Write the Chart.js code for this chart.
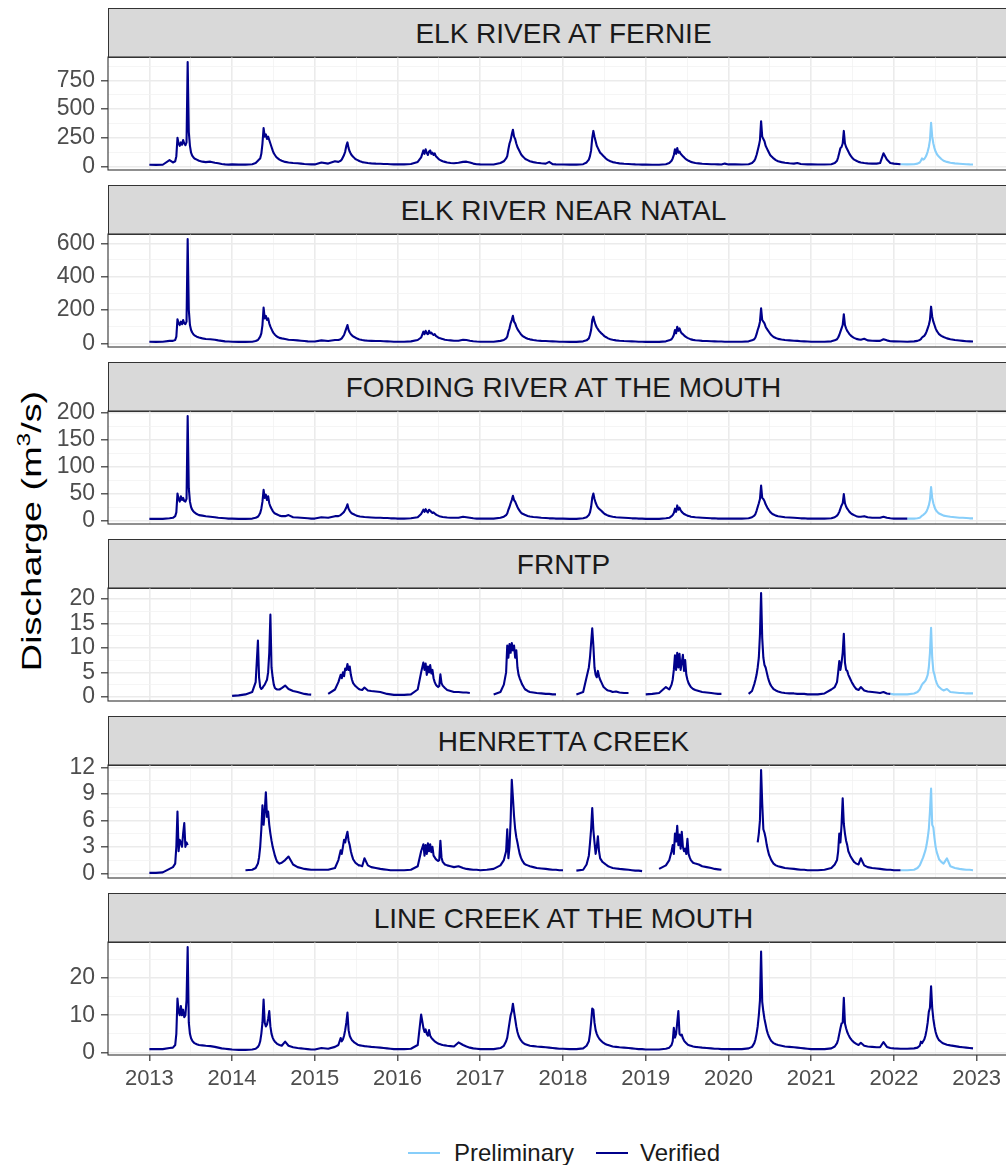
<!DOCTYPE html>
<html><head><meta charset="utf-8">
<script src="https://cdn.jsdelivr.net/npm/chart.js@4/dist/chart.umd.min.js"></script>
<style>
html,body{margin:0;padding:0;background:#fff}
body{width:1006px;height:1165px;overflow:hidden;position:relative;font-family:"Liberation Sans",Arial,sans-serif}
.strip{position:absolute;left:108px;width:911px;height:50px;background:#D9D9D9;border:1px solid #333;box-sizing:border-box;display:flex;align-items:center;justify-content:center;font-size:28px;color:#1A1A1A;white-space:nowrap;padding-top:1px}
canvas.pc{position:absolute;left:0}
#ytitle{position:absolute;left:32px;top:531px;transform:translate(-50%,-50%) rotate(-90deg) scaleX(1.35);font-size:28px;color:#000;white-space:nowrap}
#ytitle sup{font-size:18px;vertical-align:0;position:relative;top:-11px}
.lg{position:absolute;font-size:24px;color:#1A1A1A;white-space:nowrap}
.ls{position:absolute;height:2px}
</style>
</head><body>
<div id="ytitle">Discharge (m<sup>3</sup>/s)</div>
<span class="ls" style="left:408px;top:1152px;width:32px;background:#87CEFA"></span>
<span class="lg" style="left:454px;top:1139px">Preliminary</span>
<span class="ls" style="left:596px;top:1152px;width:32px;background:#00008B"></span>
<span class="lg" style="left:640px;top:1139px">Verified</span>
<script>
// ---------------- DATA ----------------
const STATIONS = ["ELK RIVER AT FERNIE","ELK RIVER NEAR NATAL","FORDING RIVER AT THE MOUTH","FRNTP","HENRETTA CREEK","LINE CREEK AT THE MOUTH"];
const YEARS = [2013,2014,2015,2016,2017,2018,2019,2020,2021,2022];
// day of year of each sample within a year
const DOY = [1,30,60,90,105,115,120,125,130,135,140,145,150,155,160,165,170,175,180,185,190,195,200,210,220,235,250,270,290,305,320,335,350];
const X_TICKS = [2013,2014,2015,2016,2017,2018,2019,2020,2021,2022,2023];
const Y_TICKS = [[0,250,500,750],[0,200,400,600],[0,50,100,150,200],[0,5,10,15,20],[0,3,6,9,12],[0,10,20]];
// decimal year from which data are Preliminary (null = all Verified)
const PRELIM_START = [2022.1, null, 2022.17, 2022.0, 2022.09, null];

const FERNIE = [
[15,14,15,55,35,45,90,250,200,180,210,190,230,200,185,210,910,300,180,120,95,80,70,60,50,42,38,42,32,28,22,18,16],
[18,16,16,20,30,50,60,70,110,200,335,260,280,240,260,230,200,170,140,115,100,85,75,60,50,40,35,30,28,25,22,20,18],
[18,35,25,45,40,50,60,80,100,130,180,210,160,130,110,95,85,75,65,60,55,50,45,38,35,30,27,25,24,22,21,20,18],
[18,18,22,40,80,140,110,150,120,100,130,140,110,120,100,115,90,80,70,60,55,50,45,40,35,30,28,32,40,42,35,25,20],
[18,17,17,30,45,70,90,150,200,230,280,320,260,240,200,170,150,130,110,95,85,75,65,55,45,38,32,28,25,40,20,18,17],
[17,16,16,20,35,60,90,140,250,310,260,220,180,160,140,120,110,100,90,80,70,62,55,45,38,32,27,24,22,20,18,17,16],
[16,15,15,20,30,50,70,100,150,110,160,120,130,110,100,90,80,70,62,55,50,45,40,35,30,27,24,22,20,19,18,17,25],
[18,18,17,20,30,50,70,100,140,180,230,395,260,240,220,180,160,140,120,100,90,80,70,55,45,38,32,28,25,30,22,20,18],
[18,17,17,20,30,50,80,120,160,170,200,310,200,170,150,130,110,95,80,70,60,55,50,40,35,30,27,25,25,30,115,60,30],
[25,20,18,20,25,35,50,70,60,65,80,100,130,170,230,380,260,200,160,130,110,95,85,65,50,40,32,27,24,22,20,18,17]
];
const NATAL = [
[10,9,10,15,15,20,40,145,120,110,130,115,140,120,115,130,625,200,110,80,65,55,48,40,35,30,26,25,22,18,15,12,11],
[10,9,9,10,14,20,30,40,60,110,215,150,165,140,150,120,100,85,70,60,52,45,40,33,30,26,22,20,18,16,14,12,11],
[11,18,14,20,20,25,30,40,50,70,90,110,80,65,55,48,42,38,34,30,28,25,23,20,18,16,15,14,14,13,12,11,10],
[10,10,12,20,35,70,55,75,60,55,75,60,65,55,50,55,45,40,35,32,30,28,26,22,20,18,16,16,22,20,16,13,11],
[10,10,10,15,20,30,40,70,90,120,140,165,130,120,100,85,75,65,55,48,42,38,34,28,24,20,17,15,14,13,12,11,10],
[10,9,9,12,18,30,50,80,140,160,130,110,95,85,75,68,60,55,48,42,38,34,30,25,22,18,16,14,13,12,11,10,10],
[9,9,9,12,18,25,35,50,80,60,100,75,90,70,60,55,48,42,37,33,30,27,24,21,19,17,15,14,13,12,11,11,10],
[10,10,10,12,18,25,35,55,80,100,130,210,140,130,120,100,88,78,68,58,50,44,38,32,27,23,20,18,16,15,13,12,11],
[10,10,10,12,18,25,35,50,70,90,110,175,110,90,75,65,55,48,42,37,33,30,27,24,22,28,18,16,15,15,25,18,13],
[12,11,10,12,15,20,25,35,40,45,55,70,90,110,140,220,160,130,110,90,75,65,55,45,38,30,25,20,17,15,13,12,11]
];
const FORDING = [
[3,3,3,4,5,8,15,50,40,35,45,38,42,36,35,40,194,60,35,25,20,17,15,12,10,9,8,7,6,5,4.5,4,3.5],
[3.5,3,3,3.5,5,7,10,14,22,35,57,42,48,38,45,32,26,22,18,15,13,12,11,9,8,8,10,6,5.5,5,4.5,4,3.5],
[3.5,6,5,8,8,10,12,14,16,20,24,30,22,18,15,13,12,11,10,9,8.5,8,7.5,7,6.5,6,5.5,5,5,4.5,4.5,4,4],
[3.5,3.5,4,6,12,20,16,21,17,15,20,18,16,14,15,13,11,10,9,8,7.5,7,6.5,6,5.5,5,5,5,7,6,5,4,3.5],
[3.5,3.5,3.5,5,7,10,13,20,25,32,38,46,38,35,30,25,21,18,15,13,12,11,10,8.5,7.5,6.5,6,5,4.5,4,4,3.5,3.5],
[3.5,3,3,4,6,10,15,25,42,50,40,33,28,24,22,20,18,16,14,12,11,10,9,8,7,6,5.5,5,4.5,4,4,3.5,3.5],
[3,3,3,4,5,8,10,14,22,16,28,20,24,19,16,14,12,11,10,9,8.5,8,7,6.5,6,5.5,5,4.5,4,4,3.5,3.5,3.5],
[3.5,3.5,3.5,4,6,9,12,18,25,32,40,65,42,40,36,30,26,22,19,16,14,12,11,9,8,7,6,5.5,5,4.5,4,4,3.5],
[3.5,3.5,3.5,4,6,9,12,16,22,28,32,49,32,26,22,19,16,14,12,11,10,9,8,7,7,8,6,5,5,5,7,5,4],
[3.5,3.5,3.5,3.5,4,5,7,9,10,12,14,17,22,28,38,62,42,32,25,20,17,15,13,11,9,8,7,6,5,5,4.5,4,4]
];
const FRNTP = [
[null,null,null,null,null,null,null,null,null,null,null,null,null,null,null,null,null,null,null,null,null,null,null,null,null,null,null,null,null,null,null,null,null],
[0.2,0.3,0.5,1.0,3,11.5,4,2,1.6,1.8,2.2,2.5,3,3.5,5,9,16.8,6,4,2.5,1.8,1.6,1.5,1.5,1.8,2.3,1.6,1.2,1.0,0.8,0.6,0.5,0.45],
[null,null,0.6,1.5,3,4.5,3.8,5,4.2,5.8,5.5,6.7,5.5,6.2,4.5,3.5,2.8,2.5,2.2,2.0,1.8,1.6,1.5,1.4,1.9,1.3,1.2,1.1,1.0,0.8,0.6,0.5,0.4],
[0.4,0.4,0.5,1.5,5,7,5.5,6.8,4.5,6.2,5,6.5,4.8,5.5,3.8,3,2.5,2.2,2.0,2.2,4.6,2.8,2.3,1.8,1.4,1.2,1.0,1.0,0.9,0.9,0.8,null,null],
[null,null,0.5,1,2.5,5,10.5,8,10.8,9,11,9.5,10.5,8,9.5,6,4.5,3.8,3.2,2.6,2.2,1.8,1.5,1.2,1.0,0.9,0.8,0.7,0.6,0.6,0.5,0.5,null],
[null,null,0.5,1.0,4,6,8,11,14,10.5,6,4.5,4,5.3,4.2,3.5,3,2.5,2.0,1.8,1.6,1.4,1.3,1.2,1.0,1.1,0.9,0.8,0.8,null,null,null,null],
[0.5,0.6,0.8,2,1.5,2.5,3.5,5.5,8.5,5.5,9,6,8.8,5.5,7,8.6,5.3,7.5,4.5,3.5,2.8,2.4,2.0,1.6,1.4,1.2,1.0,0.9,0.8,0.7,0.6,0.6,null],
[null,0.4,null,0.6,1.2,2.6,3.5,4.5,6,8,12.8,21.2,12,8,6.5,6,5,4,3.2,2.6,2.2,1.9,1.6,1.3,1.1,0.9,0.8,0.7,0.7,0.6,0.6,0.6,0.5],
[0.5,0.5,0.7,1.5,2,3,5,7.3,5.5,7,9,12.9,7,5.5,5.3,4.5,4,3.5,3,2.6,2.2,1.9,1.6,1.4,2.0,1.3,1.1,1.0,0.9,0.8,1.0,0.7,0.6],
[0.5,0.5,0.5,0.7,1.0,1.5,2,2.5,2.8,3,3.3,3.8,4.5,6,9,14.1,8,5.3,4.5,3.5,2.8,2.3,2.0,1.6,1.3,1.6,1.0,0.9,0.8,0.8,0.7,0.7,0.7]
];
const HENRETTA = [
[0.05,0.05,0.1,0.5,0.7,1.1,3,7,2.5,3.8,3.5,3,4.5,5.7,3,3.5,3.2,null,null,null,null,null,null,null,null,null,null,null,null,null,null,null,null],
[0.35,null,0.35,0.4,0.6,1.1,1.8,3,5,7.7,5.5,7,9.2,6.4,7,5.5,4.5,3.7,3,2.5,2,1.6,1.3,1.1,1.2,1.5,1.9,1.0,0.7,0.6,0.5,0.45,0.4],
[0.4,0.4,0.4,0.6,1.5,2.6,2.2,3,3.8,3.5,4.2,4.7,3.7,3.2,2.5,2,1.6,1.4,1.2,1.1,1.0,0.9,0.9,0.8,1.7,0.9,0.7,0.6,0.5,0.45,0.4,0.35,0.35],
[0.35,0.35,0.4,0.8,2.5,3.3,2,3.2,2.2,3.4,2.5,3.3,2.4,3.0,2.0,1.8,1.6,1.5,1.4,1.5,3.7,1.8,1.3,1.0,0.9,0.8,0.7,0.8,0.6,0.5,0.45,0.4,0.4],
[0.35,0.4,0.5,0.9,1.5,2.5,5,1.7,3,6,10.6,8.6,6.5,5,4.1,3.5,2.8,2.2,1.8,1.5,1.3,1.1,1.0,0.9,0.8,0.7,0.6,0.55,0.5,0.45,0.4,0.4,0.35],
[0.35,null,0.3,0.4,1.0,2,3.4,5,7.4,4.9,3.5,2.2,3,4.2,2.5,1.7,1.5,1.3,1.2,1.1,1.0,0.9,0.8,0.7,0.6,0.55,0.5,0.45,0.4,0.35,0.3,0.3,0.25],
[null,null,0.5,0.9,1.5,2.5,3.2,2.2,4.5,3.6,5.4,3.2,4.4,2.8,4.7,3.0,2.5,2.8,2.2,3.9,2.2,1.8,1.5,1.2,1.1,1.0,0.8,0.7,0.6,0.5,0.45,0.4,null],
[null,null,null,null,null,null,null,null,3.5,4.5,6,11.7,7.9,5,4.6,4,3.2,2.6,2.1,1.8,1.5,1.3,1.1,0.9,0.8,0.7,0.6,0.55,0.5,0.45,0.4,0.4,0.35],
[0.35,0.35,0.4,0.6,1.0,1.5,2.5,4.5,3.5,5.5,8.5,5.6,4.5,3.7,3.2,2.5,2.2,1.9,1.7,1.5,1.3,1.2,1.1,1.0,1.7,0.9,0.7,0.6,0.55,0.5,0.45,0.4,0.4],
[0.35,0.35,0.35,0.4,0.6,0.9,1.2,1.5,1.8,2.2,2.6,3.2,4,5,7,9.6,5.5,5.2,4,3,2.4,2,1.6,1.3,1.1,1.7,0.8,0.6,0.5,0.45,0.4,0.4,0.35]
];
const LINE_CREEK = [
[0.9,0.9,0.9,1.2,1.3,2,5,14.5,11,10,12.5,10,11.5,9.5,10,14,28.3,8,5,3.8,3.2,2.8,2.5,2.2,2,1.9,1.8,1.7,1.5,1.3,1.1,1.0,0.9],
[0.8,0.7,0.7,0.8,1.0,1.5,2,3,5,8,14.2,8,7,7.5,9,11.1,7,5,4,3.3,2.9,2.6,2.3,2.0,1.8,2.9,1.8,1.4,1.2,1.1,1.0,0.9,0.8],
[0.8,1.2,1.0,1.5,2,3.9,3,3.5,4.5,6,8,10.7,6,4.5,3.8,3.3,3,2.7,2.5,2.3,2.1,2.0,1.9,1.8,1.7,1.6,1.5,1.4,1.3,1.2,1.1,1.0,0.9],
[0.9,0.9,1.0,2,10.2,6.6,5.5,6.2,5,4.5,6,4.5,4,3.6,3.3,3,2.8,2.6,2.4,2.3,2.2,2.1,2.0,1.9,1.8,1.7,1.6,2.7,2,1.6,1.3,1.1,1.0],
[0.9,0.9,0.9,1.2,1.8,3,4,6,8,10,11,13.1,11,9,7,5.5,4.5,3.8,3.3,2.9,2.6,2.4,2.2,2.0,1.8,1.7,1.6,1.5,1.4,1.3,1.2,1.1,1.0],
[1.0,0.9,0.9,1.1,1.8,3,5,8,11.8,11.5,8,6,5,4.3,3.8,3.4,3.1,2.8,2.6,2.4,2.2,2.1,2.0,1.8,1.6,1.5,1.4,1.3,1.2,1.1,1.0,0.9,0.9],
[0.8,0.8,0.8,1.0,1.3,2,3,6.6,4,5,8,11.1,5,4.6,4.8,3.8,3.2,2.8,2.5,2.2,2.0,1.9,1.8,1.6,1.5,1.4,1.3,1.2,1.1,1.0,1.0,0.9,0.9],
[0.9,0.9,0.9,1.1,1.5,2.5,3.5,5,7,10,14,27.1,13.6,11,9,7.5,6,5,4.2,3.6,3.1,2.8,2.5,2.2,2.0,1.8,1.6,1.5,1.4,1.3,1.2,1.1,1.0],
[0.9,0.9,0.9,1.1,1.6,2.5,3.5,5,6.5,7.8,8,14.7,7.8,6.5,5.5,4.8,4.2,3.7,3.3,3.0,2.7,2.5,2.3,2.0,2.6,1.8,1.6,1.5,1.4,1.4,2.8,1.5,1.2],
[1.1,1.0,1.0,1.1,1.3,1.8,2.9,2.5,3,3.5,4.5,6,8,10.9,12,17.8,12,9,7,5.5,4.5,3.8,3.3,2.8,2.4,2.1,1.9,1.7,1.5,1.4,1.3,1.2,1.1]
];
const SERIES = [FERNIE, NATAL, FORDING, FRNTP, HENRETTA, LINE_CREEK];

// ---------------- STYLE / LAYOUT ----------------
const COL_VER = '#00008B', COL_PRE = '#87CEFA';
const PANEL_TOP0 = 57, PANEL_STEP = 177, PANEL_H = 113, PAD = 15, CANVAS_W = 1030;
Chart.defaults.font.family = "'Liberation Sans', Arial, sans-serif";

function buildSeries(rows, start) {
  const V = [], P = [];
  YEARS.forEach((yr, yi) => rows[yi].forEach((v, di) => {
    const pt = {x: yr + (DOY[di] - 1) / 365, y: v};
    if (start === null || pt.x < start) V.push(pt); else P.push(pt);
  }));
  if (P.length && V.length) P.unshift(V[V.length - 1]);
  return {V, P};
}

const borderPlugin = {
  id: 'panelBorder',
  afterDraw(chart) {
    const a = chart.chartArea, c = chart.ctx;
    c.save(); c.strokeStyle = '#333333'; c.lineWidth = 1.1;
    c.strokeRect(a.left, a.top, a.right - a.left, a.bottom - a.top);
    c.restore();
  }
};

STATIONS.forEach((name, i) => {
  const last = i === STATIONS.length - 1;
  const plotTop = PANEL_TOP0 + PANEL_STEP * i;
  const strip = document.createElement('div');
  strip.className = 'strip';
  strip.style.top = (plotTop - 49) + 'px';
  strip.textContent = name;
  document.body.appendChild(strip);

  const cv = document.createElement('canvas');
  cv.className = 'pc';
  const xh = last ? 45 : 0;
  cv.width = CANVAS_W; cv.height = PAD + PANEL_H + (last ? xh : PAD);
  cv.style.top = (plotTop - PAD) + 'px';
  document.body.appendChild(cv);

  const rows = SERIES[i];
  const vals = rows.flat().filter(v => v !== null);
  const dmin = Math.min(...vals), dmax = Math.max(...vals);
  const ex = (dmax - dmin) * 0.05;
  const ymin = dmin - ex, ymax = dmax + ex;
  const majors = Y_TICKS[i];
  const half = (majors[1] - majors[0]) / 2;
  const yvals = [];
  for (let k = Math.ceil(ymin / half); k * half <= ymax; k++) yvals.push(+(k * half).toFixed(6));
  const isMajY = v => majors.includes(v);
  const xvals = [];
  X_TICKS.forEach((t, k) => { xvals.push(t); if (k < X_TICKS.length - 1) xvals.push(t + 0.5); });
  const isMajX = v => Number.isInteger(v);

  const s = buildSeries(rows, PRELIM_START[i]);
  const datasets = [];
  datasets.push({label: 'Verified', data: s.V, borderColor: COL_VER, borderWidth: 2.1});
  if (s.P.length) datasets.push({label: 'Preliminary', data: s.P, borderColor: COL_PRE, borderWidth: 2.1});

  new Chart(cv, {
    type: 'line',
    data: {datasets},
    plugins: [borderPlugin],
    options: {
      responsive: false, animation: false, devicePixelRatio: 1,
      parsing: false, spanGaps: false,
      elements: {point: {radius: 0}, line: {tension: 0, borderJoinStyle: 'round', borderCapStyle: 'butt'}},
      layout: {padding: {top: PAD, bottom: last ? 0 : PAD, left: 0, right: 12}},
      plugins: {legend: {display: false}, tooltip: {enabled: false}},
      scales: {
        x: {
          type: 'linear', min: 2012.5, max: 2023.5,
          afterBuildTicks: sc => { sc.ticks = xvals.map(v => ({value: v})); },
          afterFit: sc => { sc.height = xh; sc.paddingLeft = 0; sc.paddingRight = 0; sc.paddingTop = 0; sc.paddingBottom = 0; },
          border: {display: false},
          grid: {
            color: c => isMajX(c.tick.value) ? '#EBEBEB' : '#F3F3F3',
            lineWidth: c => isMajX(c.tick.value) ? 1.6 : 0.8,
            drawTicks: last, tickLength: 6,
            tickColor: c => isMajX(c.tick.value) ? '#333333' : 'rgba(0,0,0,0)', tickWidth: 1.2
          },
          ticks: {
            display: last, autoSkip: false, maxRotation: 0, padding: 5,
            color: '#4D4D4D', font: {size: 22},
            callback: v => isMajX(v) ? String(v) : ''
          }
        },
        y: {
          type: 'linear', min: ymin, max: ymax,
          afterBuildTicks: sc => { sc.ticks = yvals.map(v => ({value: v})); },
          afterFit: sc => { sc.width = 108; sc.paddingTop = 0; sc.paddingBottom = 0; sc.paddingLeft = 0; sc.paddingRight = 0; },
          border: {display: false},
          grid: {
            color: c => isMajY(c.tick.value) ? '#EBEBEB' : '#F3F3F3',
            lineWidth: c => isMajY(c.tick.value) ? 1.6 : 0.8,
            drawTicks: true, tickLength: 7,
            tickColor: c => isMajY(c.tick.value) ? '#333333' : 'rgba(0,0,0,0)', tickWidth: 1.2
          },
          ticks: {
            autoSkip: false, padding: 6, color: '#4D4D4D', font: {size: 23},
            callback: v => isMajY(v) ? String(v) : ''
          }
        }
      }
    }
  });
});
</script>
</body></html>
